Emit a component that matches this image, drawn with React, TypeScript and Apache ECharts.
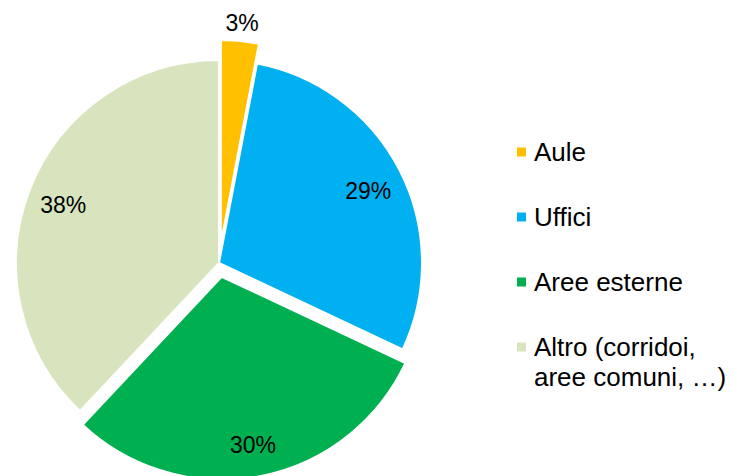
import React, { useEffect, useRef } from "react";
import * as echarts from "echarts";

const categories = ["Aule", "Uffici", "Aree esterne", "Altro (corridoi,\naree comuni, …)"];
const values = [3, 29, 30, 38];
const colors = ["#FFC000", "#00B0F0", "#00B050", "#D7E4BD"];
// slices pulled out of the pie
const explodedAule = "Aule";
const explodedArea = "Aree esterne";

const FONT = "Liberation Sans";
const CENTER = [219, 263];
const R = 203;
const CLEAR = "rgba(0,0,0,0)";

export default function App() {
  const ref = useRef<HTMLDivElement>(null);
  useEffect(() => {
    document.body.style.margin = "0";
    if (!ref.current) return;
    const chart = echarts.init(ref.current, undefined, { renderer: "svg" });

    const base = {
      type: "pie",
      center: CENTER,
      startAngle: 90,
      clockwise: true,
      silent: true,
      selectedMode: "multiple",
      avoidLabelOverlap: false,
      labelLine: { show: false },
      emphasis: { disabled: true },
    };

    const mainSeries = {
      ...base,
      name: "main",
      radius: [0, R],
      selectedOffset: 20,
      label: { show: false },
      data: categories.map((c, i) => ({
        name: c,
        value: values[i],
        selected: c === explodedAule,
        itemStyle: {
          color: c === explodedArea ? CLEAR : colors[i],
          borderColor: c === explodedArea ? CLEAR : "#fff",
          borderWidth: 2,
        },
      })),
    };

    const areaSeries = {
      ...base,
      name: "area",
      radius: [0, R],
      selectedOffset: 14,
      label: { show: false },
      data: categories.map((c, i) => ({
        name: c,
        value: values[i],
        selected: c === explodedArea,
        itemStyle: {
          color: c === explodedArea ? colors[i] : CLEAR,
          borderColor: c === explodedArea ? "#fff" : CLEAR,
          borderWidth: 2,
        },
      })),
    };

    const labelStyle = {
      show: true,
      position: "inside",
      formatter: "{c}%",
      fontFamily: FONT,
      fontSize: 23,
      color: "#000",
    };

    const labelSeries = {
      ...base,
      name: "labels",
      radius: [126, R],
      selectedOffset: 14,
      label: labelStyle,
      labelLayout: { dy: 4 },
      data: categories.map((c, i) => ({
        name: c,
        value: values[i],
        selected: c === explodedArea,
        label: { show: c !== explodedAule },
        itemStyle: { color: CLEAR, borderWidth: 0 },
      })),
    };

    const auleLabelSeries = {
      ...base,
      name: "auleLabel",
      radius: [R, R + 40],
      selectedOffset: 20,
      label: labelStyle,
      labelLayout: { dy: 5 },
      data: categories.map((c, i) => ({
        name: c,
        value: values[i],
        selected: c === explodedAule,
        label: { show: c === explodedAule },
        itemStyle: { color: CLEAR, borderWidth: 0 },
      })),
    };

    const lastLines = categories[3].split("\n");

    chart.setOption({
      animation: false,
      backgroundColor: "#fff",
      tooltip: { show: false },
      legend: {
        orient: "vertical",
        left: 517,
        top: 137,
        padding: 0,
        itemWidth: 9,
        itemHeight: 9,
        itemGap: 35,
        selectedMode: false,
        icon: "rect",
        itemStyle: { borderWidth: 0 },
        formatter: (name: string) => name.split("\n")[0],
        textStyle: {
          fontFamily: FONT,
          fontSize: 26,
          color: "#000",
          lineHeight: 30,
          padding: [0, 0, 0, 3],
        },
        data: categories.map((c, i) => ({
          name: c,
          itemStyle: { color: colors[i], borderWidth: 0, opacity: 1 },
        })),
      },
      graphic: [
        {
          type: "text",
          left: 534,
          top: 362,
          silent: true,
          style: {
            text: lastLines[1],
            font: `26px ${FONT}`,
            fill: "#000",
            lineHeight: 30,
          },
        },
      ],
      series: [mainSeries, areaSeries, labelSeries, auleLabelSeries],
    });
    return () => chart.dispose();
  }, []);
  return (
    <div
      ref={ref}
      style={{ position: "fixed", left: 0, top: 0, width: 732, height: 476 }}
    />
  );
}
